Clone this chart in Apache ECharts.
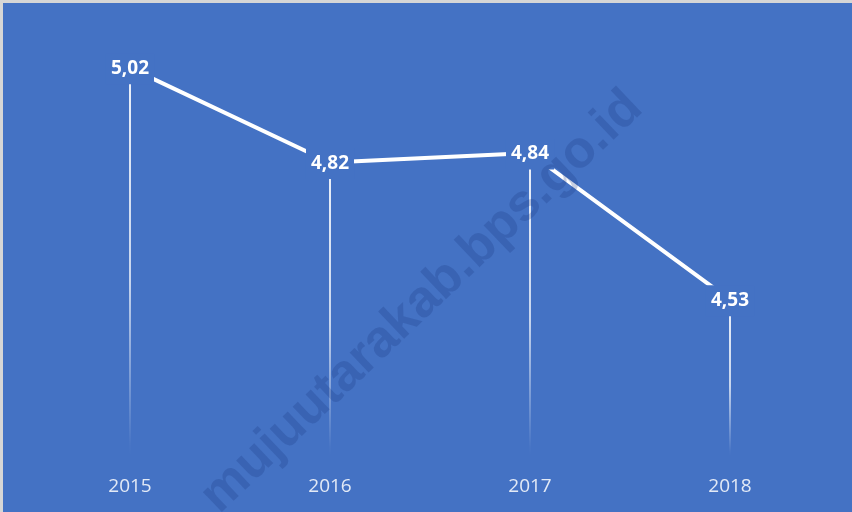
<!DOCTYPE html>
<html>
<head>
<meta charset="utf-8">
<script src="https://cdn.jsdelivr.net/npm/echarts@6/dist/echarts.min.js"></script>
<style>
  html, body { margin: 0; padding: 0; background: #d6d6d6; }
  #chart { position: absolute; left: 3px; top: 3px; width: 849px; height: 509px; }
</style>
</head>
<body>
<div id="chart"></div>
<script>
// data
const years = ['2015', '2016', '2017', '2018']
const values = [5.02, 4.82, 4.84, 4.53]
const watermark = 'mujuutarakab.bps.go.id'

const bg = '#4472C4'
const chart = echarts.init(document.getElementById('chart'))

const option = {
  backgroundColor: bg,
  animation: false,
  grid: { left: 27, top: 27, width: 800, height: 426 },
  xAxis: {
    type: 'category',
    data: years,
    axisLine: { show: false },
    axisTick: { show: false },
    axisLabel: {
      color: 'rgba(255,255,255,0.85)',
      fontFamily: 'Open Sans',
      fontSize: 19,
      margin: 21
    }
  },
  yAxis: {
    type: 'value',
    min: 4.2,
    max: 5.1,
    show: false,
    splitLine: { show: false }
  },
  series: [
    {
      // drop lines
      type: 'bar',
      data: values,
      barWidth: 2,
      z: 1,
      itemStyle: {
        color: new echarts.graphic.LinearGradient(0, 0, 0, 1, [
          { offset: 0, color: 'rgba(255,255,255,0.9)' },
          { offset: 0.55, color: 'rgba(255,255,255,0.7)' },
          { offset: 0.97, color: 'rgba(255,255,255,0.02)' },
          { offset: 1, color: 'rgba(255,255,255,0)' }
        ])
      }
    },
    {
      type: 'line',
      data: values,
      z: 3,
      symbol: 'circle',
      symbolSize: 2,
      itemStyle: { color: '#fff' },
      lineStyle: { color: '#fff', width: 4 },
      label: {
        show: true,
        position: 'inside',
        offset: [0, 1],
        color: '#fff',
        fontFamily: 'Open Sans',
        fontWeight: 'bold',
        fontSize: 19,
        backgroundColor: bg,
        padding: [6, 5, 6, 5],
        formatter: p => p.value.toFixed(2).replace('.', ',')
      }
    }
  ],
  graphic: [
    {
      type: 'text',
      x: 419,
      y: 299,
      rotation: 0.76,
      z: 100,
      silent: true,
      style: {
        text: watermark,
        fill: 'rgba(25,55,125,0.24)',
        font: 'bold 52px "Liberation Sans"',
        align: 'center',
        verticalAlign: 'middle'
      }
    }
  ]
}

chart.setOption(option)
window.addEventListener('resize', () => chart.resize())
</script>
</body>
</html>
